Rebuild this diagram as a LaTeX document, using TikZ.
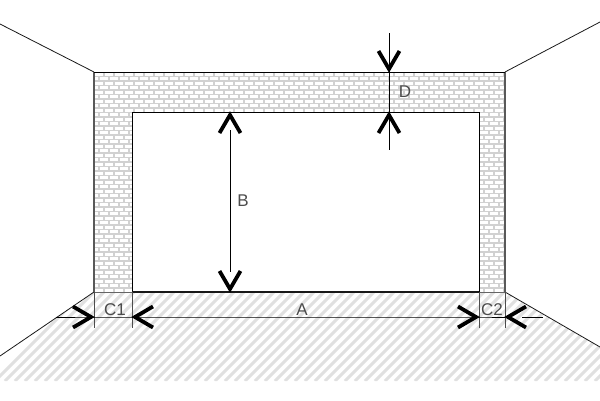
\documentclass[tikz,border=0pt]{standalone}
\usepackage{fontspec}
\setmainfont{Liberation Sans}
\usetikzlibrary{calc}
\definecolor{labelgrey}{gray}{0.3}
\tikzset{
  x=1pt,y=-1pt,
  edgeline/.style={black!90,line width=0.8pt},
  wallline/.style={black,line width=0.9pt},
  sideline/.style={black!65,line width=1.7pt},
  extline/.style={black!70,line width=1pt},
  stem/.style={black,line width=1pt},
  headstroke/.style={black,line width=3.8pt,line join=miter,miter limit=10},
  hatchline/.style={black!12,line width=3pt},
  mortar/.style={black!18,line width=1.1pt},
  dimlabel/.style={font=\fontsize{17}{17}\selectfont,text=labelgrey,inner sep=0pt},
}
% V-shaped dimension head: #1 tip point, (#2,#3) unit vector from tip towards the barbs
\newcommand{\dimhead}[3]{%
  \draw[headstroke] ($(#1)+({21*#2-10.5*#3},{21*#3-10.5*#2})$)
    -- ($(#1)+({3*#2},{3*#3})$)
    -- ($(#1)+({21*#2+10.5*#3},{21*#3+10.5*#2})$);}
\begin{document}
\begin{tikzpicture}
\useasboundingbox (0,0) rectangle (600,400);
\fill[white] (0,0) rectangle (600,400);
% wall and floor anchor points
\coordinate (ol) at (94,72);  \coordinate (or) at (505,72);
\coordinate (bl) at (94,292); \coordinate (br) at (505,292);
\coordinate (il) at (132,112);\coordinate (ir) at (479,112);
\coordinate (jl) at (132,292);\coordinate (jr) at (479,292);
\coordinate (cTL) at (0,24);  \coordinate (cTR) at (600,22);
\coordinate (cBL) at (0,356); \coordinate (cBR) at (600,347);
% floor hatch
\begin{scope}
  \clip (bl) -- (br) -- (cBR) -- (600,381) -- (0,381) -- (cBL) -- cycle;
  \foreach \k in {0,...,72}{
    \draw[hatchline] ({-5+10*\k},381) -- ({-5+10*\k+110},271);
  }
\end{scope}
% bricks
\begin{scope}
  \clip (ol) -- (or) -- (br) -- (jr) -- (ir) -- (il) -- (jl) -- (bl) -- cycle;
  \foreach \r in {0,...,49}{
    \pgfmathsetmacro{\yy}{72+4.5*\r}
    \pgfmathsetmacro{\yn}{\yy+4.5}
    \pgfmathsetmacro{\off}{mod(\r,2)*5}
    \draw[mortar] (94,\yy) -- (505,\yy);
    \foreach \k in {0,...,41}{
      \draw[mortar] ({94+\off+10*\k},\yy) -- ({94+\off+10*\k},\yn);
    }
  }
\end{scope}
% outlines
\draw[edgeline] (cTL) -- (ol);
\draw[edgeline] (cTR) -- (or);
\draw[edgeline] (cBL) -- (bl);
\draw[edgeline] (cBR) -- (br);
\draw[sideline] (bl) -- (ol);
\draw[sideline] (br) -- (or);
\draw[wallline] (ol) -- (or);
\draw[wallline] (jl) -- (il) -- (ir) -- (jr);
\draw[black!90,line width=2pt] (jl) -- (jr);
\draw[black!60,line width=1pt] (bl) -- (jl) (jr) -- (br);
% extension lines
\coordinate (e1) at (94,328); \coordinate (e2) at (132,328);
\coordinate (e3) at (479,328);\coordinate (e4) at (505,328);
\draw[extline] (bl) -- (e1);
\draw[extline] (jl) -- (e2);
\draw[extline] (jr) -- (e3);
\draw[extline] (br) -- (e4);
% horizontal dimension points
\coordinate (c1s) at (56,317);
\coordinate (c1t) at (94,317);
\coordinate (at) at (132,317);
\coordinate (bt) at (479,317);
\coordinate (c2t) at (505,317);
\coordinate (c2a) at (522,317);
\coordinate (c2s) at (543,317);
\draw[stem] (c1s) -- (c1t) -- (at) -- (bt) -- (c2t);
\draw[stem] (c2a) -- (c2s);
\dimhead{c1t}{-1}{0}
\dimhead{at}{1}{0}
\dimhead{bt}{-1}{0}
\dimhead{c2t}{1}{0}
% B
\coordinate (bTop) at (230,112); \coordinate (bBot) at (230,292);
\coordinate (bS1) at (230,130);  \coordinate (bS2) at (230,272);
\draw[stem] (bS1) -- (bS2);
\dimhead{bTop}{0}{1}
\dimhead{bBot}{0}{-1}
% D
\coordinate (dS1) at (389,33); \coordinate (dS2) at (389,150);
\coordinate (dA) at (389,72);  \coordinate (dB) at (389,112);
\draw[stem] (dS1) -- (dS2);
\dimhead{dA}{0}{-1}
\dimhead{dB}{0}{1}
% labels
\node[dimlabel] (lA)  at (302,310) {A};
\node[dimlabel] (lB)  at (243,201) {B};
\node[dimlabel] (lC1) at (115,310) {C1};
\node[dimlabel] (lC2) at (492,310) {C2};
\node[dimlabel] (lD)  at (405,92) {D};
\end{tikzpicture}
\end{document}
